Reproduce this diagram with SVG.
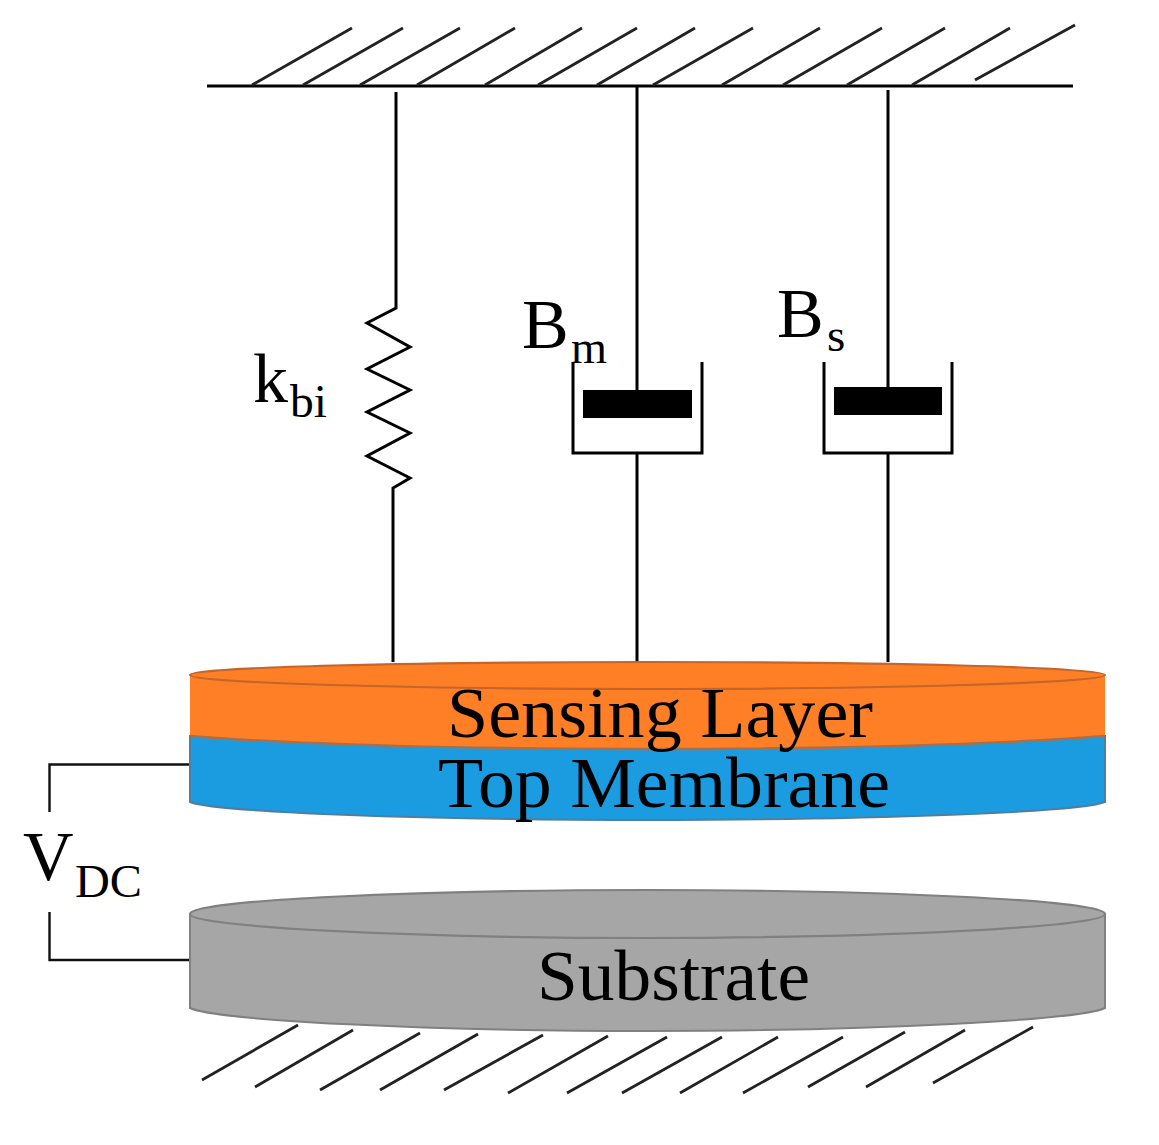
<svg xmlns="http://www.w3.org/2000/svg" width="1159" height="1145" viewBox="0 0 1159 1145">
<style>
.ln{fill:none;stroke:#000;stroke-width:3}
.th{fill:none;stroke:#111;stroke-width:2.4}
.hatch{fill:none;stroke:#222;stroke-width:2.8}
text{font-family:"Liberation Serif","Times New Roman",serif;fill:#000}
.big{font-size:72px}
.sym{font-size:70px}
.sub{font-size:47px}
</style>
<rect width="1159" height="1145" fill="#fff"/>
<g id="top-support">
<path class="ln" d="M207 86H1073"/>
<path class="hatch" d="M252 85L352 28M303 85L403 28M360 85L460 28M417 85L515 28M485 85L582 28M538 85L637 28M597 85L695 28M653 85L753 28M722 85L820 28M783 85L882 28M847 85L945 28M912 85L1010 28M975 80L1075 25"/>
</g>
<g id="connectors">
<path class="ln" d="M396 92V308L367 323L410 347L367 369L410 390L367 412L410 433L367 456L410 478L393 488V662"/>
<path class="ln" d="M637 87V390M637 453V662"/>
<path class="ln" d="M888 90V388M888 453V662"/>
<path class="th" d="M190 764.500H49.500V812M49.500 912V960H190"/>
</g>
<g id="damper-m">
<path class="ln" d="M573 362V453H702V362"/>
<rect x="583" y="390" width="109" height="28" fill="#000"/>
</g>
<g id="damper-s">
<path class="ln" d="M824 362V453H952V362"/>
<rect x="834" y="387" width="108" height="28" fill="#000"/>
</g>
<g id="label-kbi"><text class="sym" x="253" y="402">k</text><text class="sub" x="290" y="417" textLength="37" lengthAdjust="spacingAndGlyphs">bi</text></g>
<g id="label-bm"><text class="sym" x="522" y="348">B</text><text class="sub" x="571" y="363" textLength="36" lengthAdjust="spacingAndGlyphs">m</text></g>
<g id="label-bs"><text class="sym" x="777" y="337">B</text><text class="sub" x="827" y="351">s</text></g>
<g id="label-vdc"><text class="sym" x="23" y="880">V</text><text class="sub" x="75" y="897" textLength="67" lengthAdjust="spacingAndGlyphs">DC</text></g>
<g id="top-membrane">
<path d="M190 736V802C215 812 420 820 647 820S1080 812 1105 802V736Z" fill="#1B9BE0" stroke="#4F7FA0" stroke-width="2"/>
<text class="big" x="438" y="807" textLength="452" lengthAdjust="spacingAndGlyphs" fill="#00102a">Top Membrane</text>
</g>
<g id="sensing-layer">
<path d="M190 675V736C300 745 480 749 647 749S990 745 1105 736V675Z" fill="#FF7F27"/>
<path d="M190 736C300 745 480 749 647 749S990 745 1105 736" fill="none" stroke="#A8704A" stroke-width="2.500"/>
<path d="M190 675C190 667 420 662 647 662S1105 667 1105 675C1105 683 880 689 647 689S190 683 190 675Z" fill="#FF7F27" stroke="#C4652A" stroke-width="2.200"/>
<text class="big" x="447" y="737" textLength="426" lengthAdjust="spacingAndGlyphs" fill="#2a0500">Sensing Layer</text>
</g>
<g id="substrate">
<path d="M190 914V1008C215 1020 420 1031 647 1031S1080 1020 1105 1008V914Z" fill="#A6A6A6" stroke="#808080" stroke-width="2"/>
<path d="M190 914C190 900 420 890 647 890S1105 900 1105 914C1105 927 880 938 647 938S190 927 190 914Z" fill="#A6A6A6" stroke="#808080" stroke-width="2.200"/>
<text class="big" x="537" y="1000" textLength="273" lengthAdjust="spacingAndGlyphs">Substrate</text>
</g>
<g id="bottom-support">
<path class="hatch" d="M202 1080L298 1025M255 1087L353 1030M320 1090L420 1033M380 1090L478 1034M444 1090L543 1035M508 1093L608 1036M567 1093L667 1037M622 1093L722 1037M680 1093L778 1037M743 1093L843 1037M808 1087L905 1032M866 1087L965 1030M933 1083L1033 1027"/>
</g>
</svg>
